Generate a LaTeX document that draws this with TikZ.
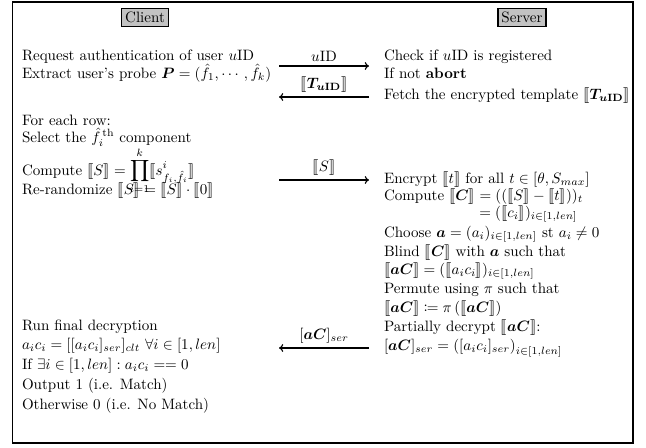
\RequirePackage{fix-cm}
\documentclass[tikz,border=0pt]{standalone}
\usepackage{amsmath,amssymb,mathtools,stmaryrd,bm}
\usetikzlibrary{arrows.meta}
\newcommand{\enc}[1]{\llbracket #1\rrbracket}
\begin{document}
\begin{tikzpicture}[x=0.7043pt,y=-0.7043pt,
  every node/.style={font=\fontsize{10.6}{12.7}\selectfont},
  txt/.style={anchor=mid west,inner sep=0pt,outer sep=0pt},
  role/.style={draw,fill=black!24,line width=0.8pt,inner xsep=2.4pt,inner ysep=1.5pt,minimum height=12.5pt},
  msg/.style={line width=0.8pt,-{To[length=3pt,width=5.5pt]}},
  lab/.style={inner sep=0pt,anchor=base}]
\useasboundingbox (0,0) rectangle (646,447);
\draw[line width=1.3pt] (12.5,2) rectangle (633,443);
\node[role] (client) at (145,17.5) {Client};
\node[role] (server) at (522,17.5) {Server};
% client text
\node[txt] (c1) at (22,57) {Request authentication of user $u$ID};
\node[txt] (c2) at (22,75) {Extract user's probe $\boldsymbol{P}=(\hat{f}_1,\cdots,\hat{f}_k)$};
\node[txt] (c3) at (22,122) {For each row:};
\node[txt] (c4) at (22,139) {Select the ${\hat{f}_i}^{\,\text{th}}$ component};
\node[txt] (c5) at (22,172) {Compute $\enc{S}=\displaystyle\prod_{i=1}^{k}\enc{s^{i}_{f_i,\hat{f}_i}}$};
\node[txt] (c6) at (22,191) {Re-randomize $\enc{S}=\enc{S}\cdot\enc{0}$};
\node[txt] (c7) at (22,327) {Run final decryption};
\node[txt] (c8) at (22,346) {$a_ic_i=[[a_ic_i]_{ser}]_{clt}\ \forall i\in[1,len]$};
\node[txt] (c9) at (22,366) {If $\exists i\in[1,len]:a_ic_i==0$};
\node[txt] (c10) at (22,386) {Output 1 (i.e. Match)};
\node[txt] (c11) at (22,406) {Otherwise 0 (i.e. No Match)};
% server text
\node[txt] (s1) at (384,57) {Check if $u$ID is registered};
\node[txt] (s2) at (384,75) {If not \textbf{abort}};
\node[txt] (s3) at (384,96) {Fetch the encrypted template $\enc{\boldsymbol{T}_{\bm{u}\mathbf{ID}}}$};
\node[txt] (s4) at (384,180) {Encrypt $\enc{t}$ for all $t\in[\theta,S_{max}]$};
\node[txt] (s5) at (384,197) {Compute $\enc{\boldsymbol{C}}$\;};
\node[anchor=west,inner sep=0pt] (s5b) at (s5.east) {$=((\enc{S}-\enc{t}))_t$};
\node[txt] (s6) at (s5b.west |- 0,214) {$=(\enc{c_i})_{i\in[1,len]}$};
\node[txt] (s7) at (384,234) {Choose $\boldsymbol{a}=(a_i)_{i\in[1,len]}$ st $a_i\neq0$};
\node[txt] (s8) at (384,253) {Blind $\enc{\boldsymbol{C}}$ with $\boldsymbol{a}$ such that};
\node[txt] (s9) at (384,271) {$\enc{\boldsymbol{aC}}=(\enc{a_ic_i})_{i\in[1,len]}$};
\node[txt] (s10) at (384,290) {Permute using $\pi$ such that};
\node[txt] (s11) at (384,309) {$\enc{\boldsymbol{aC}}\coloneqq\pi\left(\enc{\boldsymbol{aC}}\right)$};
\node[txt] (s12) at (384,328) {Partially decrypt $\enc{\boldsymbol{aC}}$:};
\node[txt] (s13) at (384,347) {$[\boldsymbol{aC}]_{ser}=\left([a_ic_i]_{ser}\right)_{i\in[1,len]}$};
% messages
\coordinate (a1l) at (279,66); \coordinate (a1r) at (369,66);
\coordinate (a2l) at (279,97); \coordinate (a2r) at (369,97);
\coordinate (a3l) at (279,180); \coordinate (a3r) at (369,180);
\coordinate (a4l) at (279,348); \coordinate (a4r) at (369,348);
\draw[msg] (a1l) -- node[lab,above=3pt] (m1) {$u$ID} (a1r);
\draw[msg] (a2r) -- node[lab,above=3pt] (m2) {$\enc{\boldsymbol{T}_{\bm{u}\mathbf{ID}}}$} (a2l);
\draw[msg] (a3l) -- node[lab,above=3pt] (m3) {$\enc{S}$} (a3r);
\draw[msg] (a4r) -- node[lab,above=3pt] (m4) {$[\boldsymbol{aC}]_{ser}$} (a4l);
\end{tikzpicture}
\end{document}
